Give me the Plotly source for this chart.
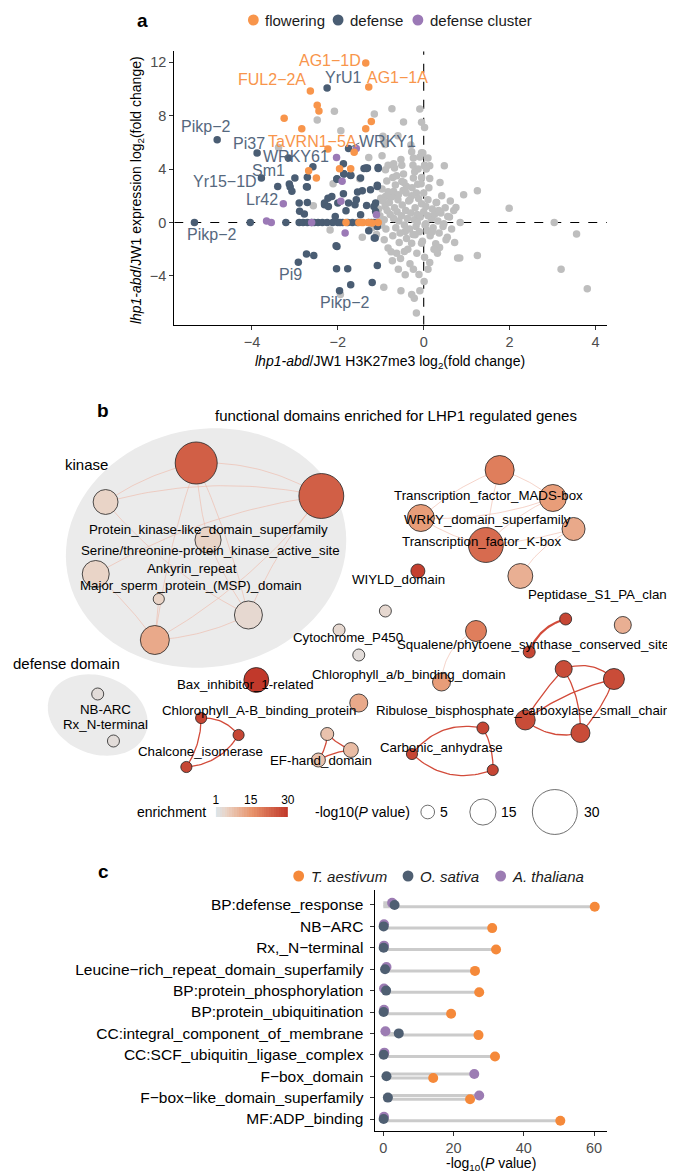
import math
import plotly.graph_objects as go

W, H = 675, 1172
FONT = "Liberation Sans, Arial, Helvetica, sans-serif"


def fx(p):
    return p / W


def fy(p):
    return 1 - p / H


# ---------------- panel a data ----------------
gray_x = [-2.08, -2.48, -1.93, -1.15, -0.74, -0.09, -0.47, -0.05, 0.02, -3.38, -0.93, -0.95, -0.90, -0.05, 0.10,
          0.02, 0.14, 0.48, -0.53, -0.24, -0.97, -1.28, -0.28, -0.02, -0.09, -0.89, -0.68, -0.47, -0.72, -0.51,
          -0.24, -0.05, -0.14, -0.40, -0.70, -0.89, -1.00, -0.59, -0.32, -0.17, 0.00, 0.29, 0.10, 0.93, 1.25,
          1.99, 0.75, 0.56, 0.85, 3.04, 3.56, 3.20, 3.81, 1.25, 0.84, 0.79, 0.52, 0.37, 0.14, 0.10,
          0.01, -0.09, -0.17, -0.28, -0.22, -0.53, -0.93, -0.43, -0.59, -0.24, -0.73, -0.63, -0.45, -0.83, -0.92,
          -0.28, -0.05, -0.20, -0.43, -1.43, -2.18, -1.94, -2.57, -2.11, -1.49, -0.83, -0.51, -0.25, -0.13, 0.02,
          -0.95, -0.90, -0.85, -0.80, -0.78, -0.75, -0.70, -0.68, -0.65, -0.62, -0.60, -0.58, -0.55, -0.52, -0.50,
          -0.48, -0.45, -0.42, -0.40, -0.38, -0.35, -0.33, -0.30, -0.28, -0.25, -0.22, -0.20, -0.18, -0.15, -0.12,
          -0.10, -0.08, -0.05, -0.03, 0.00, 0.03, 0.05, 0.08, 0.10, 0.12, 0.15, 0.18, 0.20, 0.22, 0.25,
          0.28, 0.30, 0.33, 0.36, 0.40, 0.45, 0.50, 0.55, 0.60, 0.65, 0.70, -0.92, -0.88, -0.83, -0.72,
          -0.66, -0.57, -0.46, -0.37, -0.27, -0.16, -0.06, 0.02, 0.14, 0.24, -0.98, -1.02, -1.05, -0.97, -0.86,
          -0.76, -0.63, -0.54, -0.41, -0.32, -0.21, -0.11, 0.06, 0.32, 0.42, 0.38, 0.62, 0.72, -1.10, -1.20,
          -0.70, -0.30, -0.60, 0.35, 0.47, 0.20, -0.15, 0.05]
gray_y = [8.32, 7.67, 6.87, 8.12, 8.52, 8.50, 7.52, 7.50, 7.12, 5.62, 6.07, 6.46, 5.83, 5.22, 4.82,
          4.25, 4.25, 4.25, 4.72, 4.82, 4.99, 4.87, 5.30, 5.20, 4.90, 3.94, 4.07, 3.62, 3.37, 3.07,
          3.32, 3.37, 2.87, 2.70, 2.32, 1.95, 1.82, 2.07, 1.70, 2.20, 2.20, 1.50, 1.70, 2.07, 2.37,
          1.07, 1.12, 0.45, 0.00, 0.00, -0.87, -3.50, -4.97, -2.47, -2.67, -2.67, -1.30, -1.87, -3.00, -3.50,
          -4.42, -5.12, -6.79, -5.40, -5.67, -5.12, -4.85, -3.92, -3.50, -3.50, -2.87, -2.30, -2.17, -1.92, -1.30,
          -1.55, -1.55, -0.92, -0.67, -1.10, -0.57, -5.40, 1.25, 2.89, 3.27, 4.28, 4.28, 4.28, 4.00, 4.28,
          1.60, 1.20, 0.90, 1.50, 0.60, 1.90, 0.30, 1.10, -0.40, 0.80, 1.70, 0.10, -0.80, 0.50, 1.30,
          2.40, -0.20, 0.90, -1.20, 0.30, 1.60, -0.50, 0.70, 2.00, -0.90, 0.20, 1.10, -0.30, 0.60, 1.80,
          -0.70, 0.40, 1.40, -1.40, 0.80, -0.20, 1.20, -0.60, 0.50, 2.60, -1.00, 0.30, 1.00, -0.40, 0.60,
          -1.60, 1.50, 0.10, -0.80, 0.70, -0.30, 1.10, -1.10, 0.40, -0.50, 0.90, 0.20, -0.50, 2.30, -1.00,
          2.80, -1.50, 3.00, -2.00, 2.60, -2.30, 2.90, -2.60, 3.30, -2.00, -0.20, 0.50, 1.00, 2.50, 3.10,
          -2.20, 3.50, -2.70, 2.20, -3.10, 3.80, -3.90, 4.00, -2.30, 2.00, 3.00, 1.60, -1.50, -0.90, -0.40,
          4.40, 5.80, 6.50, 0.90, -0.10, -0.70, 0.00, -0.10]

defense_x = [-5.34, -4.04, -3.21, -2.90, -2.81, -2.71, -2.61, -2.46, -2.36, -2.12, -2.00, -1.89, -1.77, -1.66, -1.54,
             -1.28, -1.22, -1.16, -1.10, -2.25, -1.95, -2.55, -4.81, -3.88, -3.15, -3.78, -2.25, -1.75, -1.35, -1.31,
             -1.06, -1.70, -1.86, -2.02, -1.47, -1.08, -1.24, -1.43, -1.54, -1.87, -1.57, -1.75, -1.12, -1.16, -1.33,
             -2.00, -2.14, -2.23, -2.31, -1.81, -1.60, -2.06, -1.47, -1.12, -1.28, -1.08, -1.13, -2.02, -2.03, -1.77,
             -1.08, -1.70, -1.96, -1.20, -2.73, -2.56, -2.92, -2.04, -1.15, -3.40, -3.11, -3.07, -2.71, -2.90, -2.71,
             -2.89, -2.78, -2.31, -2.22, -3.00, -2.71, -2.58, -2.02, -1.87, -1.86, -1.70, -1.39, -1.33, -1.06, -1.08,
             -3.13, -2.73]
defense_y = [0.00, 0.00, 0.00, 0.00, 0.00, 0.00, 0.00, 0.00, 0.00, 0.00, 0.00, 0.00, 0.00, 0.00, 0.00,
             0.00, 0.00, 0.00, 0.00, 0.00, 0.00, 0.00, 6.20, 5.20, 4.82, 3.33, 10.07, 5.54, 4.07, 4.07,
             4.12, 3.52, 3.62, 3.27, 3.32, 2.69, 2.44, 2.37, 2.28, 2.15, 1.70, 1.45, 1.45, 1.20, 1.27,
             1.45, 1.95, 1.82, 1.32, 0.87, 1.32, 0.45, 0.57, 0.82, -0.63, -0.30, -1.17, -1.80, -3.47, -3.47,
             -3.22, -4.67, -5.12, -4.49, -2.37, -2.47, -2.99, -1.74, -1.17, 2.70, 2.66, 2.33, 2.66, 1.45, 1.50,
             0.83, 0.63, 1.45, 1.20, 3.33, 3.38, 4.17, 3.23, 4.40, 3.65, 3.53, 4.05, 4.05, 4.05, 2.78,
             2.88, 2.68]

cluster_x = [-1.57, -2.03, -1.90, -1.93, -1.10, -3.66, -3.55, -2.61, -3.27, -1.83]
cluster_y = [5.54, 4.87, 3.08, 1.58, 0.57, 0.10, 0.00, 0.00, 1.40, -0.79]

flowering_x = [-1.35, -2.64, -1.28, -2.48, -2.44, -3.25, -2.84, -1.22, -1.35, -2.23, -1.62, -1.96, -1.70, -2.68, -2.50,
               -1.81, -1.51, -1.41, -1.29, -1.06, -1.45, -1.20]
flowering_y = [11.94, 9.84, 10.14, 8.77, 8.34, 7.80, 7.02, 7.57, 7.02, 5.50, 5.25, 4.03, 4.03, 3.87, 3.33,
               0.00, 0.00, 0.00, 0.00, 0.00, 0.00, -0.05]

gene_labels = ["AG1−1D", "FUL2−2A", "YrU1", "AG1−1A", "Pikp−2", "Pi37", "TaVRN1−5A", "WRKY1", "WRKY61",
               "Sm1", "Yr15−1D", "Lr42", "Pikp−2", "Pi9", "Pikp−2"]
gene_label_x = [-2.19, -3.53, -1.86, -0.61, -5.09, -4.07, -2.60, -0.84, -2.98, -3.61, -4.62, -3.76, -4.95, -3.11, -1.84]
gene_label_y = [12.11, 10.69, 10.82, 10.82, 7.22, 5.95, 6.10, 6.10, 4.97, 3.92, 3.03, 1.75, -0.92, -3.92, -5.99]
gene_label_group = ["flowering", "flowering", "defense", "flowering", "defense", "defense", "flowering", "defense",
                    "defense", "defense", "defense", "defense", "defense", "defense", "defense"]

# ---------------- panel b data ----------------
node_id = ["K1", "K2", "K3", "K4", "K5", "K6", "K7", "K8", "D1", "D2",
           "T1", "T2", "T3", "T4", "T5", "T6", "W", "C1", "S1", "P1",
           "Q", "Cyt", "S2", "Chab", "Chl2", "R1", "R2", "Prot", "R3", "R4",
           "Bax", "CA1", "CA2", "CA3", "Ch1", "Ch2", "Ch3", "EF1", "EF2", "EF3"]
node_x = [188, 315, 96, 200, 86, 150, 241, 146, 88, 104,
          496, 550, 416, 571, 482, 517, 413, 380, 563, 621,
          472, 333, 526, 353, 437, 561, 612, 353, 522, 578,
          249, 479, 407, 489, 193, 231, 178, 321, 345, 312]
node_y = [455, 488, 494, 532, 566, 591, 607, 632, 686, 733,
          462, 490, 510, 521, 537, 568, 563, 603, 611, 617,
          623, 622, 644, 647, 674, 661, 671, 695, 712, 725,
          672, 720, 746, 762, 710, 727, 759, 726, 742, 752]
node_logp = [27.7, 30.0, 14.0, 15.0, 15.7, 3.0, 16.5, 17.3, 3.7, 3.7,
             17.3, 15.7, 15.7, 12.5, 22.0, 14.0, 5.3, 3.7, 3.7, 7.7,
             10.9, 3.7, 3.7, 3.7, 8.5, 7.7, 10.9, 8.5, 10.0, 9.3,
             14.0, 3.7, 3.0, 3.0, 3.0, 3.0, 3.0, 4.5, 6.0, 5.3]
node_enr = [24, 24, 5, 5, 5, 5, 4, 12, 3, 3,
            19, 14, 14, 12, 22, 11, 29, 4, 28, 11,
            19, 4, 28, 3, 14, 27, 27, 12, 27, 27,
            30, 28, 28, 28, 28, 28, 28, 8, 9, 8]

edge_a = ["K1", "K1", "K1", "K1", "K1", "K2", "K2", "K2", "K2", "K3", "K8", "K6", "K4", "K5",
          "T1", "T1", "T1", "T3", "T2", "T5", "T4", "T3", "Q",
          "S1", "R1", "R1", "R2", "R3", "R2", "R1", "CA2", "CA2", "CA1",
          "Ch1", "Ch1", "Ch2", "EF1", "EF2", "EF1"]
edge_b = ["K2", "K3", "K8", "K7", "K4", "K3", "K8", "K7", "K5", "K7", "K7", "K8", "K7", "K8",
          "T3", "T2", "T5", "T5", "T5", "T4", "T6", "T2", "Chl2",
          "S2", "R2", "R4", "R3", "R4", "R4", "R3", "CA1", "CA3", "CA3",
          "Ch2", "Ch3", "Ch3", "EF2", "EF3", "EF3"]
edge_curv = [-0.15, 0.10, 0.05, -0.05, 0.05, 0.12, -0.10, 0.08, 0.10, 0.10, 0.10, 0.0, 0.05, -0.05,
             0.10, -0.10, 0.05, 0.10, 0.10, 0.05, 0.15, 0.10, 0.30,
             0.25, -0.30, -0.15, 0.10, 0.25, -0.10, 0.05, -0.30, 0.30, -0.15,
             -0.25, -0.15, -0.25, 0.10, 0.10, -0.15]
edge_red = [0] * 23 + [1] * 16

group_cx = [198, 88]
group_cy = [540, 707]
group_rx = [143, 52]
group_ry = [119, 39]
group_angle = [-10, 20]

b_labels = ["Protein_kinase-like_domain_superfamily", "Serine/threonine-protein_kinase_active_site",
            "Ankyrin_repeat", "Major_sperm_protein_(MSP)_domain", "NB-ARC", "Rx_N-terminal",
            "Transcription_factor_MADS-box", "WRKY_domain_superfamily", "Transcription_factor_K-box",
            "WIYLD_domain", "Peptidase_S1_PA_clan", "Cytochrome_P450",
            "Squalene/phytoene_synthase_conserved_site", "Chlorophyll_a/b_binding_domain",
            "Bax_inhibitor_1-related", "Chlorophyll_A-B_binding_protein",
            "Ribulose_bisphosphate_carboxylase_small_chain", "Chalcone_isomerase", "EF-hand_domain",
            "Carbonic_anhydrase"]
b_label_x = [200, 202, 184, 183, 96, 96, 485, 484, 478, 393, 595, 342, 530, 404, 238, 252, 520, 192, 315, 437]
b_label_y = [521, 542, 560, 577, 701, 716, 488, 512, 533, 571, 586, 629, 636, 666, 676, 702, 702, 743, 752, 739]

legend_p = [5, 15, 30]
enrich_ticks = [1, 15, 30]
enrich_vals = list(range(1, 31))

# ---------------- panel c data ----------------
terms = ["BP:defense_response", "NB−ARC", "Rx,_N−terminal", "Leucine−rich_repeat_domain_superfamily",
         "BP:protein_phosphorylation", "BP:protein_ubiquitination", "CC:integral_component_of_membrane",
         "CC:SCF_ubiquitin_ligase_complex", "F−box_domain", "F−box−like_domain_superfamily", "MF:ADP_binding"]
t_aestivum = [60.2, 31.0, 32.1, 26.1, 27.3, 19.3, 27.1, 31.8, 14.2, 24.7, 50.4]
o_sativa = [3.2, 0.1, 0.1, 0.5, 0.8, 0.1, 4.4, 0.1, 0.9, 1.3, 0.1]
a_thaliana = [2.5, 0.2, 0.2, 0.9, 0.2, 0.2, 0.6, 0.3, 25.9, 27.3, 0.2]

# ---------------- styling ----------------
ORANGE = "#F8954B"
SLATE = "#4A5D73"
PURPLE = "#9B79B6"
GRAY = "#BEBEBE"
C_OR = "#F5893A"
C_SL = "#4F5F72"
C_PU = "#9C7CB3"
CS = [[0, "#DCE5EA"], [0.15, "#EAD2C4"], [0.5, "#E8946C"], [1, "#C1392B"]]
TICKC = "#4D4D4D"


def node_size(p):
    return 7.4 + 1.25 * p


fig = go.Figure()

# ---- panel a traces ----
for xs, ys, col in [(gray_x, gray_y, GRAY), (defense_x, defense_y, SLATE),
                    (cluster_x, cluster_y, PURPLE), (flowering_x, flowering_y, ORANGE)]:
    fig.add_trace(go.Scatter(x=xs, y=ys, mode="markers", xaxis="x", yaxis="y",
                             marker=dict(size=7.5, color=col, line=dict(width=0)),
                             hoverinfo="skip", showlegend=False))

annotations = []
shapes = []


def ann(text, x, y, xref, yref, size, color="black", xanchor="center", yanchor="middle", **kw):
    annotations.append(dict(text=text, x=x, y=y, xref=xref, yref=yref, xanchor=xanchor, yanchor=yanchor,
                            showarrow=False, font=dict(family=FONT, size=size, color=color), **kw))


for lab, lx, ly, g in zip(gene_labels, gene_label_x, gene_label_y, gene_label_group):
    ann(lab, lx, ly, "x", "y", 16, ORANGE if g == "flowering" else "#55687E")

# dashed reference lines
shapes.append(dict(type="line", xref="x", yref="y", x0=0, x1=0, y0=-7.66, y1=12.82,
                   line=dict(color="black", width=1.1, dash="dash"), layer="below"))
shapes.append(dict(type="line", xref="x", yref="y", x0=-5.81, x1=4.27, y0=0, y1=0,
                   line=dict(color="black", width=1.1, dash="dash"), layer="below"))
# WRKY1 connector
shapes.append(dict(type="line", xref="x", yref="y", x0=-1.72, x1=-1.50, y0=5.62, y1=5.95,
                   line=dict(color="#55687E", width=1)))


# ---- panel b: groups ----
def ellipse_path(cx, cy, rx, ry, ang, n=90):
    a = math.radians(ang)
    pts = []
    for k in range(n):
        t = 2 * math.pi * k / n
        ex, ey = rx * math.cos(t), ry * math.sin(t)
        pts.append((cx + ex * math.cos(a) - ey * math.sin(a), cy + ex * math.sin(a) + ey * math.cos(a)))
    return "M " + " L ".join(f"{x:.1f},{y:.1f}" for x, y in pts) + " Z"


for cx, cy, rx, ry, ang in zip(group_cx, group_cy, group_rx, group_ry, group_angle):
    shapes.append(dict(type="path", xref="x2", yref="y2", path=ellipse_path(cx, cy, rx, ry, ang),
                       fillcolor="#EBEBEB", line=dict(width=0), layer="below"))

idx = {n: i for i, n in enumerate(node_id)}
for a, b, c, red in zip(edge_a, edge_b, edge_curv, edge_red):
    x0, y0 = node_x[idx[a]], node_y[idx[a]]
    x1, y1 = node_x[idx[b]], node_y[idx[b]]
    mx, my = (x0 + x1) / 2, (y0 + y1) / 2
    dx, dy = x1 - x0, y1 - y0
    cx, cy = mx - c * dy, my + c * dx
    xs, ys = [], []
    for k in range(31):
        t = k / 30
        xs.append((1 - t) ** 2 * x0 + 2 * (1 - t) * t * cx + t ** 2 * x1)
        ys.append((1 - t) ** 2 * y0 + 2 * (1 - t) * t * cy + t ** 2 * y1)
    wid = 1.3 if red else 0.6
    if red and a == "S1":
        wid = 2.2
    fig.add_trace(go.Scatter(x=xs, y=ys, mode="lines", xaxis="x2", yaxis="y2",
                             line=dict(color="#D24B3A" if red else "#EFB7A6", width=wid),
                             hoverinfo="skip", showlegend=False))

fig.add_trace(go.Scatter(x=node_x, y=node_y, mode="markers", xaxis="x2", yaxis="y2",
                         marker=dict(size=[node_size(p) for p in node_logp], color=node_enr,
                                     colorscale=CS, cmin=1, cmax=30, opacity=1,
                                     line=dict(color="#222222", width=0.8)),
                         hoverinfo="skip", showlegend=False))

for lab, lx, ly in zip(b_labels, b_label_x, b_label_y):
    ann(lab, lx, ly, "x2", "y2", 13.3)

ann("kinase", 53, 457, "x2", "y2", 15, xanchor="left")
ann("defense domain", 0, 655, "x2", "y2", 15, xanchor="left")
ann("functional domains enriched for LHP1 regulated genes", 391, 408, "x2", "y2", 15)

# size legend
leg_x = [423, 479, 552]
fig.add_trace(go.Scatter(x=leg_x, y=[804] * 3, mode="markers", xaxis="x2", yaxis="y2",
                         marker=dict(size=[node_size(p) for p in legend_p], color="rgba(0,0,0,0)",
                                     line=dict(color="black", width=0.8)),
                         hoverinfo="skip", showlegend=False))
for lx, p in zip([433, 495, 580], legend_p):
    ann(str(p), lx, 804, "x2", "y2", 14, xanchor="left")
ann("-log10(<i>P</i> value)", 307, 804, "x2", "y2", 14, xanchor="left")
ann("enrichment", 200, 804, "x2", "y2", 14, xanchor="right")

fig.add_trace(go.Heatmap(x=enrich_vals, y=[0], z=[enrich_vals], colorscale=CS, zmin=1, zmax=30,
                         showscale=False, xaxis="x4", yaxis="y4", hoverinfo="skip"))

# ---- panel c ----
off = {"T": 0.08, "O": 0.0, "A": -0.1}
seg_x, seg_y = [], []
for i in range(len(terms)):
    for vals, k in [(a_thaliana, "A"), (o_sativa, "O"), (t_aestivum, "T")]:
        seg_x += [0, vals[i], None]
        seg_y += [i + off[k], i + off[k], None]
fig.add_trace(go.Scatter(x=seg_x, y=seg_y, mode="lines", xaxis="x3", yaxis="y3",
                         line=dict(color="#CBCBCB", width=3), hoverinfo="skip", showlegend=False))
for vals, k, col in [(t_aestivum, "T", C_OR), (a_thaliana, "A", C_PU), (o_sativa, "O", C_SL)]:
    fig.add_trace(go.Scatter(x=vals, y=[i + off[k] for i in range(len(terms))], mode="markers",
                             xaxis="x3", yaxis="y3", marker=dict(size=10, color=col),
                             hoverinfo="skip", showlegend=False))


# ---- manual legends ----
def dot(cxp, cyp, r, col):
    shapes.append(dict(type="circle", xref="paper", yref="paper", x0=fx(cxp - r), x1=fx(cxp + r),
                       y0=fy(cyp + r), y1=fy(cyp - r), fillcolor=col, line=dict(width=0)))


for cxp, col, lab in [(246, ORANGE, "flowering"), (332, SLATE, "defense"), (413, PURPLE, "defense cluster")]:
    dot(cxp, 12, 5.5, col)
    ann(lab, fx(cxp + 10), fy(12), "paper", "paper", 15, "#1a1a1a", xanchor="left")

for cxp, col, lab in [(292, C_OR, "T. aestivum"), (403, C_SL, "O. sativa"), (497, C_PU, "A. thaliana")]:
    dot(cxp, 868, 5.5, col)
    ann(f"<i>{lab}</i>", fx(cxp + 10), fy(868), "paper", "paper", 15, "#1a1a1a", xanchor="left")

# panel letters
for lab, xp, yp in [("a", 133, 13), ("b", 93, 403), ("c", 94, 863)]:
    ann(f"<b>{lab}</b>", fx(xp), fy(yp), "paper", "paper", 19)

# axis titles
ann("<i>lhp1-abd</i>/JW1 H3K27me3 log<sub>2</sub>(fold change)", fx(385), fy(354), "paper", "paper", 14)
ann("<i>lhp1-abd</i>/JW1 expression log<sub>2</sub>(fold change)", fx(128), fy(182), "paper", "paper", 14,
    textangle=-90)
ann("-log<sub>10</sub>(<i>P</i> value)", fx(487), fy(1156), "paper", "paper", 14)

axis_common = dict(showgrid=False, zeroline=False, showline=True, linecolor="black", linewidth=1,
                   ticks="outside", ticklen=4, tickcolor="#333333", tickwidth=1)

fig.update_layout(
    width=W, height=H, margin=dict(l=0, r=0, t=0, b=0),
    paper_bgcolor="white", plot_bgcolor="white", showlegend=False,
    font=dict(family=FONT),
    xaxis=dict(domain=[fx(165.7), fx(605)], range=[-5.81, 4.27], tickvals=[-4, -2, 0, 2, 4], anchor="y",
               tickfont=dict(size=14.5, color=TICKC), **axis_common),
    yaxis=dict(domain=[fy(316.7), fy(43.3)], range=[-7.66, 12.82], tickvals=[-4, 0, 4, 8, 12], anchor="x",
               tickfont=dict(size=14.5, color=TICKC), **axis_common),
    xaxis2=dict(domain=[0, 1], range=[0, 675], visible=False, anchor="y2"),
    yaxis2=dict(domain=[fy(830), fy(380)], range=[830, 380], visible=False, anchor="x2"),
    xaxis3=dict(domain=[fx(369), fx(605)], range=[-2.5, 63.7], tickvals=[0, 20, 40, 60], anchor="y3",
                tickfont=dict(size=14.5, color=TICKC), **axis_common),
    yaxis3=dict(domain=[fy(1123), fy(882)], range=[10.56, -0.70], tickvals=list(range(len(terms))),
                ticktext=terms, anchor="x3", tickfont=dict(size=15.5, color="black"), ticklabelstandoff=3,
                **axis_common),
    xaxis4=dict(domain=[fx(208), fx(281)], range=[1, 30], tickvals=enrich_ticks, side="top", anchor="y4",
                showgrid=False, zeroline=False, showline=False, ticks="", tickfont=dict(size=12, color="black")),
    yaxis4=dict(domain=[fy(809), fy(799)], range=[-0.5, 0.5], visible=False, anchor="x4"),
    annotations=annotations, shapes=shapes,
)

fig.write_html("out.html")
